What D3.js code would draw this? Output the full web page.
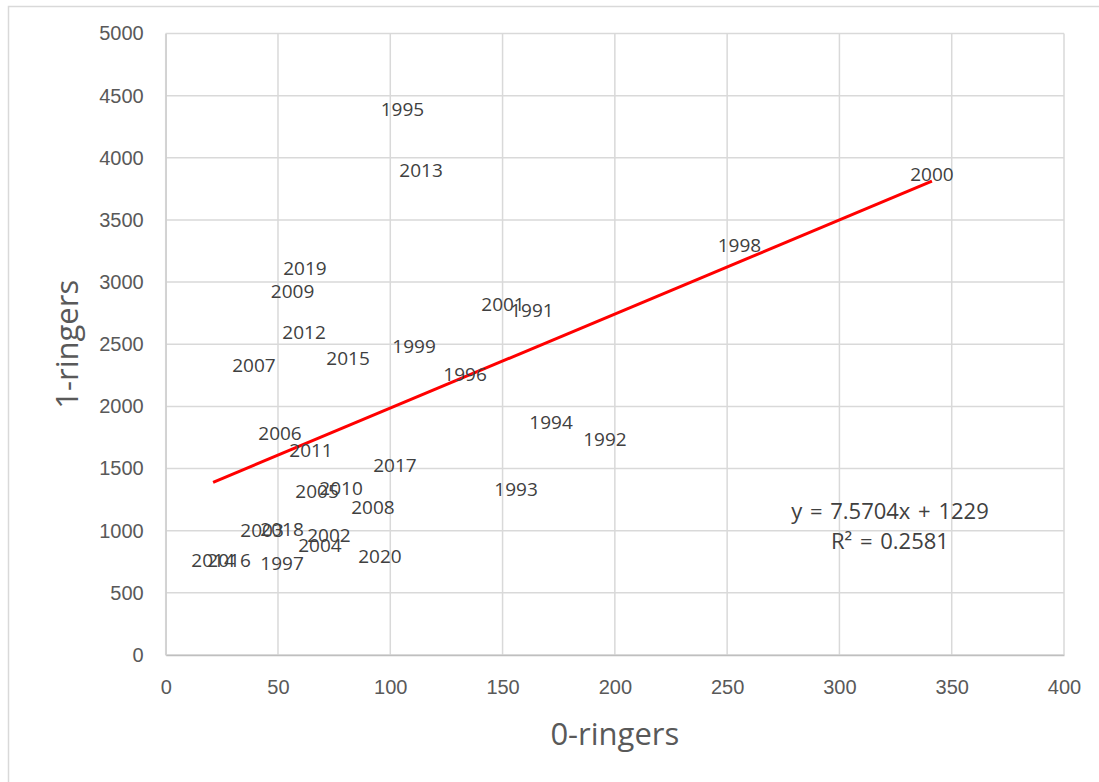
<!DOCTYPE html>
<html lang="en">
<head>
<meta charset="UTF-8">
<title>1-ringers vs 0-ringers</title>
<script src="https://d3js.org/d3.v7.min.js"></script>
<style>
  body { margin: 0; background: #fff; font-family: "Open Sans", Calibri, sans-serif; }
  svg { display: block; }
  .tick text { fill: #595959; font-size: 20px; }
  .lbl { fill: #404040; font-size: 19px; }
  .title { fill: #595959; font-size: 31px; }
  .eq { fill: #404040; font-size: 22px; word-spacing: 2px; }
</style>
</head>
<body>
<svg id="chart" width="1099" height="782"></svg>
<script>
// year labels and the two counts
const years = [1991, 1992, 1993, 1994, 1995, 1996, 1997, 1998, 1999, 2000,
               2001, 2002, 2003, 2004, 2005, 2006, 2007, 2008, 2009, 2010,
               2011, 2012, 2013, 2014, 2015, 2016, 2017, 2018, 2019, 2020];
const zeroRingers = [163.1, 195.6, 156.0, 171.6, 105.4, 133.3, 51.8, 255.5, 110.6, 341.2,
                     150.2, 72.7, 42.9, 68.7, 67.4, 50.9, 39.3, 92.3, 56.5, 78.1,
                     64.7, 61.6, 113.7, 21.1, 81.2, 28.2, 102.1, 51.8, 62.0, 95.4];
const oneRingers = [2775, 1738, 1335, 1874, 4393, 2261, 740, 3298, 2486, 3870,
                    2824, 965, 1006, 885, 1319, 1782, 2333, 1191, 2928, 1344,
                    1649, 2599, 3902, 764, 2389, 764, 1529, 1014, 3113, 796];
const xTicks = [0, 50, 100, 150, 200, 250, 300, 350, 400];
const yTicks = [0, 500, 1000, 1500, 2000, 2500, 3000, 3500, 4000, 4500, 5000];
const slope = 7.5704, intercept = 1229, r2 = 0.2581;

const margin = {top: 33.5, right: 35, bottom: 127, left: 165.7};
const W = 1099, H = 782;
const width = W - margin.left - margin.right;
const height = H - margin.top - margin.bottom;

const svg = d3.select("#chart");

// outer chart border
svg.append("rect")
   .attr("x", 8.5).attr("y", 6.5)
   .attr("width", W).attr("height", H)
   .attr("fill", "none").attr("stroke", "#d9d9d9").attr("stroke-width", 1.5);

const g = svg.append("g").attr("transform", `translate(${margin.left},${margin.top})`);

const x = d3.scaleLinear().domain([0, 400]).range([0, width]);
const y = d3.scaleLinear().domain([0, 5000]).range([height, 0]);

// gridlines
g.append("g").selectAll("line").data(yTicks).join("line")
  .attr("x1", 0).attr("x2", width)
  .attr("y1", d => y(d)).attr("y2", d => y(d))
  .attr("stroke", "#d9d9d9").attr("stroke-width", 1.5);
g.append("g").selectAll("line").data(xTicks).join("line")
  .attr("y1", 0).attr("y2", height)
  .attr("x1", d => x(d)).attr("x2", d => x(d))
  .attr("stroke", "#d9d9d9").attr("stroke-width", 1.5);

// axes
const xAxis = g.append("g")
  .attr("transform", `translate(0,${height})`)
  .call(d3.axisBottom(x).tickValues(xTicks).tickSize(0).tickPadding(25).tickFormat(d3.format("d")));
xAxis.select(".domain").attr("stroke", "#bfbfbf").attr("stroke-width", 1.5);

const yAxis = g.append("g")
  .call(d3.axisLeft(y).tickValues(yTicks).tickSize(0).tickPadding(22).tickFormat(d3.format("d")));
yAxis.select(".domain").attr("stroke", "#d0d0d0").attr("stroke-width", 1.5);

// trendline over the data's x range
const xExt = d3.extent(zeroRingers);
g.append("line")
  .attr("x1", x(xExt[0])).attr("y1", y(slope * xExt[0] + intercept))
  .attr("x2", x(xExt[1])).attr("y2", y(slope * xExt[1] + intercept))
  .attr("stroke", "#ff0000").attr("stroke-width", 3);

// data labels (markers hidden, year labels centred on the point)
g.append("g").selectAll("text").data(years).join("text")
  .attr("class", "lbl")
  .attr("x", (d, i) => x(zeroRingers[i]))
  .attr("y", (d, i) => y(oneRingers[i]))
  .attr("dy", "0.36em")
  .attr("text-anchor", "middle")
  .text(d => d);

// equation
g.append("text").attr("class", "eq")
  .attr("x", x(322.5)).attr("y", y(1160)).attr("dy", "0.36em")
  .attr("text-anchor", "middle")
  .text(`y = ${slope}x + ${intercept}`);
g.append("text").attr("class", "eq")
  .attr("x", x(322.5)).attr("y", y(920)).attr("dy", "0.36em")
  .attr("text-anchor", "middle")
  .text(`R² = ${r2}`);

// axis titles
svg.append("text").attr("class", "title")
  .attr("x", margin.left + width / 2).attr("y", 745)
  .attr("text-anchor", "middle")
  .text("0-ringers");
svg.append("text").attr("class", "title")
  .attr("transform", `translate(78,${margin.top + height / 2}) rotate(-90)`)
  .attr("text-anchor", "middle")
  .text("1-ringers");
</script>
</body>
</html>
